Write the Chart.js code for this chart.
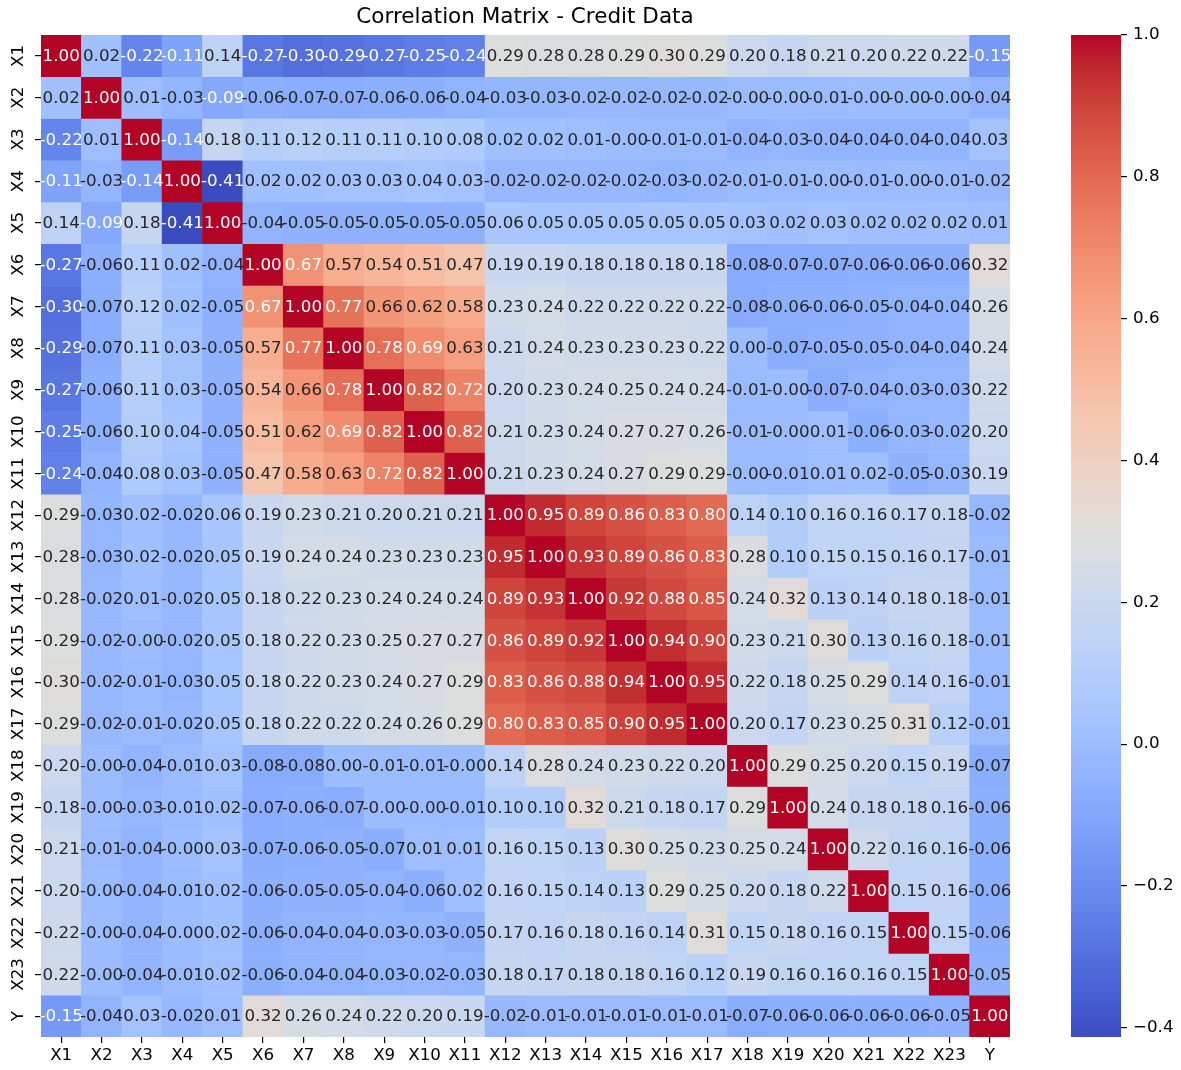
<!DOCTYPE html>
<html>
<head>
<meta charset="utf-8">
<title>Correlation Matrix - Credit Data</title>
<script src="https://cdn.jsdelivr.net/npm/chart.js@4.4.1/dist/chart.umd.min.js"></script>
<style>
  html, body { margin: 0; padding: 0; background: #ffffff; }
  #wrap { position: relative; width: 1181px; height: 1070px; }
  #heat { position: absolute; left: 0; top: 0; }
  #cbar { position: absolute; left: 1050px; top: 0; }
</style>
</head>
<body>
<div id="wrap">
  <canvas id="heat" width="1050" height="1070"></canvas>
  <canvas id="cbar" width="131" height="1070"></canvas>
</div>
<script>
// ---- data -------------------------------------------------------------
const varNames = ['X1','X2','X3','X4','X5','X6','X7','X8','X9','X10','X11','X12',
                  'X13','X14','X15','X16','X17','X18','X19','X20','X21','X22','X23','Y'];

// Pairwise correlations, one row per variable (order as in varNames).
// Small negatives that print as -0.00 are kept as -0.001 so the sign survives formatting.
const rowX1  = [1.00, 0.02,-0.22,-0.11, 0.14,-0.27,-0.30,-0.29,-0.27,-0.25,-0.24, 0.29, 0.28, 0.28, 0.29, 0.30, 0.29, 0.20, 0.18, 0.21, 0.20, 0.22, 0.22,-0.15];
const rowX2  = [0.02, 1.00, 0.01,-0.03,-0.09,-0.06,-0.07,-0.07,-0.06,-0.06,-0.04,-0.03,-0.03,-0.02,-0.02,-0.02,-0.02,-0.001,-0.001,-0.01,-0.001,-0.001,-0.001,-0.04];
const rowX3  = [-0.22, 0.01, 1.00,-0.14, 0.18, 0.11, 0.12, 0.11, 0.11, 0.10, 0.08, 0.02, 0.02, 0.01,-0.001,-0.01,-0.01,-0.04,-0.03,-0.04,-0.04,-0.04,-0.04, 0.03];
const rowX4  = [-0.11,-0.03,-0.14, 1.00,-0.413, 0.02, 0.02, 0.03, 0.03, 0.04, 0.03,-0.02,-0.02,-0.02,-0.02,-0.03,-0.02,-0.01,-0.01,-0.001,-0.01,-0.001,-0.01,-0.02];
const rowX5  = [0.14,-0.09, 0.18,-0.413, 1.00,-0.04,-0.05,-0.05,-0.05,-0.05,-0.05, 0.06, 0.05, 0.05, 0.05, 0.05, 0.05, 0.03, 0.02, 0.03, 0.02, 0.02, 0.02, 0.01];
const rowX6  = [-0.27,-0.06, 0.11, 0.02,-0.04, 1.00, 0.67, 0.57, 0.54, 0.51, 0.47, 0.19, 0.19, 0.18, 0.18, 0.18, 0.18,-0.08,-0.07,-0.07,-0.06,-0.06,-0.06, 0.32];
const rowX7  = [-0.30,-0.07, 0.12, 0.02,-0.05, 0.67, 1.00, 0.77, 0.66, 0.62, 0.58, 0.23, 0.24, 0.22, 0.22, 0.22, 0.22,-0.08,-0.06,-0.06,-0.05,-0.04,-0.04, 0.26];
const rowX8  = [-0.29,-0.07, 0.11, 0.03,-0.05, 0.57, 0.77, 1.00, 0.78, 0.69, 0.63, 0.21, 0.24, 0.23, 0.23, 0.23, 0.22, 0.00,-0.07,-0.05,-0.05,-0.04,-0.04, 0.24];
const rowX9  = [-0.27,-0.06, 0.11, 0.03,-0.05, 0.54, 0.66, 0.78, 1.00, 0.82, 0.72, 0.20, 0.23, 0.24, 0.25, 0.24, 0.24,-0.01,-0.001,-0.07,-0.04,-0.03,-0.03, 0.22];
const rowX10 = [-0.25,-0.06, 0.10, 0.04,-0.05, 0.51, 0.62, 0.69, 0.82, 1.00, 0.82, 0.21, 0.23, 0.24, 0.27, 0.27, 0.26,-0.01,-0.001, 0.01,-0.06,-0.03,-0.02, 0.20];
const rowX11 = [-0.24,-0.04, 0.08, 0.03,-0.05, 0.47, 0.58, 0.63, 0.72, 0.82, 1.00, 0.21, 0.23, 0.24, 0.27, 0.29, 0.29,-0.001,-0.01, 0.01, 0.02,-0.05,-0.03, 0.19];
const rowX12 = [0.29,-0.03, 0.02,-0.02, 0.06, 0.19, 0.23, 0.21, 0.20, 0.21, 0.21, 1.00, 0.95, 0.89, 0.86, 0.83, 0.80, 0.14, 0.10, 0.16, 0.16, 0.17, 0.18,-0.02];
const rowX13 = [0.28,-0.03, 0.02,-0.02, 0.05, 0.19, 0.24, 0.24, 0.23, 0.23, 0.23, 0.95, 1.00, 0.93, 0.89, 0.86, 0.83, 0.28, 0.10, 0.15, 0.15, 0.16, 0.17,-0.01];
const rowX14 = [0.28,-0.02, 0.01,-0.02, 0.05, 0.18, 0.22, 0.23, 0.24, 0.24, 0.24, 0.89, 0.93, 1.00, 0.92, 0.88, 0.85, 0.24, 0.32, 0.13, 0.14, 0.18, 0.18,-0.01];
const rowX15 = [0.29,-0.02,-0.001,-0.02, 0.05, 0.18, 0.22, 0.23, 0.25, 0.27, 0.27, 0.86, 0.89, 0.92, 1.00, 0.94, 0.90, 0.23, 0.21, 0.30, 0.13, 0.16, 0.18,-0.01];
const rowX16 = [0.30,-0.02,-0.01,-0.03, 0.05, 0.18, 0.22, 0.23, 0.24, 0.27, 0.29, 0.83, 0.86, 0.88, 0.94, 1.00, 0.95, 0.22, 0.18, 0.25, 0.29, 0.14, 0.16,-0.01];
const rowX17 = [0.29,-0.02,-0.01,-0.02, 0.05, 0.18, 0.22, 0.22, 0.24, 0.26, 0.29, 0.80, 0.83, 0.85, 0.90, 0.95, 1.00, 0.20, 0.17, 0.23, 0.25, 0.31, 0.12,-0.01];
const rowX18 = [0.20,-0.001,-0.04,-0.01, 0.03,-0.08,-0.08, 0.00,-0.01,-0.01,-0.001, 0.14, 0.28, 0.24, 0.23, 0.22, 0.20, 1.00, 0.29, 0.25, 0.20, 0.15, 0.19,-0.07];
const rowX19 = [0.18,-0.001,-0.03,-0.01, 0.02,-0.07,-0.06,-0.07,-0.001,-0.001,-0.01, 0.10, 0.10, 0.32, 0.21, 0.18, 0.17, 0.29, 1.00, 0.24, 0.18, 0.18, 0.16,-0.06];
const rowX20 = [0.21,-0.01,-0.04,-0.001, 0.03,-0.07,-0.06,-0.05,-0.07, 0.01, 0.01, 0.16, 0.15, 0.13, 0.30, 0.25, 0.23, 0.25, 0.24, 1.00, 0.22, 0.16, 0.16,-0.06];
const rowX21 = [0.20,-0.001,-0.04,-0.01, 0.02,-0.06,-0.05,-0.05,-0.04,-0.06, 0.02, 0.16, 0.15, 0.14, 0.13, 0.29, 0.25, 0.20, 0.18, 0.22, 1.00, 0.15, 0.16,-0.06];
const rowX22 = [0.22,-0.001,-0.04,-0.001, 0.02,-0.06,-0.04,-0.04,-0.03,-0.03,-0.05, 0.17, 0.16, 0.18, 0.16, 0.14, 0.31, 0.15, 0.18, 0.16, 0.15, 1.00, 0.15,-0.06];
const rowX23 = [0.22,-0.001,-0.04,-0.01, 0.02,-0.06,-0.04,-0.04,-0.03,-0.02,-0.03, 0.18, 0.17, 0.18, 0.18, 0.16, 0.12, 0.19, 0.16, 0.16, 0.16, 0.15, 1.00,-0.05];
const rowY   = [-0.15,-0.04, 0.03,-0.02, 0.01, 0.32, 0.26, 0.24, 0.22, 0.20, 0.19,-0.02,-0.01,-0.01,-0.01,-0.01,-0.01,-0.07,-0.06,-0.06,-0.06,-0.06,-0.05, 1.00];

const corrRows = [rowX1, rowX2, rowX3, rowX4, rowX5, rowX6, rowX7, rowX8, rowX9, rowX10,
                  rowX11, rowX12, rowX13, rowX14, rowX15, rowX16, rowX17, rowX18, rowX19,
                  rowX20, rowX21, rowX22, rowX23, rowY];

const colorbarTicks = [-0.4, -0.2, 0.0, 0.2, 0.4, 0.6, 0.8, 1.0];
const chartTitle = 'Correlation Matrix - Credit Data';

// ---- coolwarm colormap (piecewise linear anchors) ---------------------
const cwPos = [0,0.03125,0.0625,0.09375,0.125,0.15625,0.1875,0.21875,0.25,0.28125,0.3125,0.34375,
  0.375,0.40625,0.4375,0.46875,0.5,0.53125,0.5625,0.59375,0.625,0.65625,0.6875,0.71875,0.75,
  0.78125,0.8125,0.84375,0.875,0.90625,0.9375,0.96875,1.0];
const cwR = [0.2298057,0.26623388,0.30386891,0.342804478,0.38301334,0.424369608,0.46666708,
  0.509635204,0.552953156,0.596262162,0.639176211,0.681291281,0.722193294,0.761464949,
  0.798691636,0.833466556,0.865395197,0.897787179,0.924127593,0.944468518,0.958852946,
  0.96732803,0.969954137,0.966811177,0.958003065,0.943660866,0.923944917,0.89904617,
  0.869186849,0.834620542,0.795631745,0.752534934,0.705673158];
const cwG = [0.298717966,0.353094838,0.406535296,0.458757618,0.50941904,0.558148092,0.604562568,
  0.648280772,0.688929332,0.726149107,0.759599947,0.788964712,0.813952739,0.834302879,
  0.849786142,0.860207984,0.86541021,0.848937047,0.827384882,0.800927443,0.769767752,
  0.734132809,0.694266682,0.650421156,0.602842431,0.551750968,0.49730856,0.439559467,
  0.378313092,0.312874446,0.24128379,0.157246067,0.01555616];
const cwB = [0.753683153,0.801466763,0.84495867,0.883725899,0.917387822,0.945619588,0.968154911,
  0.98478814,0.995375608,0.999836203,0.998151185,0.990363227,0.976574709,0.956945269,
  0.931688648,0.901068838,0.865395561,0.820880546,0.774508472,0.726736146,0.678007945,
  0.628751763,0.579375448,0.530263762,0.481775914,0.434243684,0.387970225,0.343229596,
  0.300267182,0.259301199,0.220525627,0.184115123,0.150232812];

function coolwarm(x) {
  x = Math.max(0, Math.min(1, x));
  let k = 0;
  while (k < cwPos.length - 2 && x > cwPos[k + 1]) k++;
  const f = (x - cwPos[k]) / (cwPos[k + 1] - cwPos[k]);
  return [cwR[k] + f * (cwR[k + 1] - cwR[k]),
          cwG[k] + f * (cwG[k + 1] - cwG[k]),
          cwB[k] + f * (cwB[k + 1] - cwB[k])];
}

// 256-entry lookup table
const LUT = [];
for (let i = 0; i < 256; i++) LUT.push(coolwarm(i / 255));

const allValues = corrRows.flat();
const vmin = Math.min(...allValues);
const vmax = Math.max(...allValues);

function lutIndex(v) {
  const t = (v - vmin) / (vmax - vmin);
  return Math.max(0, Math.min(255, Math.floor(t * 256)));
}
function rgbCss(c) {
  return 'rgb(' + Math.round(c[0] * 255) + ',' + Math.round(c[1] * 255) + ',' + Math.round(c[2] * 255) + ')';
}
function cellColor(v) { return rgbCss(LUT[lutIndex(v)]); }
function textColor(v) {
  const c = LUT[lutIndex(v)].map(ch => ch <= 0.03928 ? ch / 12.92 : Math.pow((ch + 0.055) / 1.055, 2.4));
  const lum = 0.2126 * c[0] + 0.7152 * c[1] + 0.0722 * c[2];
  return lum > 0.408 ? '#262626' : '#ffffff';
}

const FONT = 'DejaVu Sans';
Chart.defaults.font.family = FONT;
Chart.defaults.color = '#000000';

// ---- cell annotations ---------------------------------------------------
const cellText = {
  id: 'cellText',
  afterDatasetsDraw(chart) {
    const ctx = chart.ctx;
    ctx.save();
    ctx.font = '16.7px "' + FONT + '"';
    ctx.textAlign = 'center';
    ctx.textBaseline = 'middle';
    chart.data.datasets.forEach((ds, r) => {
      const meta = chart.getDatasetMeta(r);
      meta.data.forEach((bar, c) => {
        const v = ds.values[c];
        const p = bar.getProps(['x', 'y', 'base'], true);
        ctx.fillStyle = textColor(v);
        ctx.fillText(v.toFixed(2), p.x, (p.y + p.base) / 2 + 1);
      });
    });
    ctx.restore();
  }
};

// ---- heatmap ------------------------------------------------------------
const heatDatasets = corrRows.map((row, r) => ({
  label: varNames[r],
  values: row,
  data: row.map(() => [r, r + 1]),
  backgroundColor: row.map(cellColor),
  borderWidth: 0,
  barPercentage: 1,
  categoryPercentage: 1,
  grouped: false
}));

new Chart(document.getElementById('heat'), {
  type: 'bar',
  data: { labels: varNames, datasets: heatDatasets },
  options: {
    responsive: false,
    animation: false,
    events: [],
    layout: { padding: 0 },
    plugins: {
      legend: { display: false },
      tooltip: { enabled: false },
      title: {
        display: true,
        text: chartTitle,
        color: '#000000',
        font: { size: 21.5, family: FONT, weight: 'normal', lineHeight: 1.2 },
        padding: { top: 5, bottom: 4.2 }
      }
    },
    scales: {
      x: {
        type: 'category',
        offset: true,
        border: { display: false },
        grid: { display: true, drawOnChartArea: false, drawTicks: true, offset: false,
                tickLength: 6, color: '#000000', lineWidth: 1.2 },
        ticks: { autoSkip: false, maxRotation: 0, minRotation: 0, padding: 3,
                 color: '#000000', font: { size: 16.7, family: FONT } },
        afterFit(s) { s.height = 33; }
      },
      y: {
        type: 'linear',
        min: 0,
        max: varNames.length,
        reverse: true,
        border: { display: false },
        grid: { display: true, drawOnChartArea: false, drawTicks: true,
                tickLength: 6, color: '#000000', lineWidth: 1.2 },
        afterBuildTicks(s) { s.ticks = varNames.map((_, i) => ({ value: i + 0.5 })); },
        ticks: {
          autoSkip: false, minRotation: 90, maxRotation: 90, crossAlign: 'center', padding: 0,
          color: '#000000', font: { size: 16.7, family: FONT },
          callback: (value, index) => varNames[index]
        },
        afterFit(s) { s.width = 41; }
      },
      // empty right-hand spacer so the plot and title share the same centre line
      spacer: {
        type: 'linear',
        position: 'right',
        display: true,
        border: { display: false },
        grid: { display: false },
        ticks: { display: false },
        afterFit(s) { s.width = 40; }
      }
    }
  },
  plugins: [cellText]
});

// ---- colorbar -----------------------------------------------------------
function barGradient(context) {
  const chart = context.chart;
  const area = chart.chartArea;
  const ys = chart.scales.y;
  if (!area || !ys) return 'rgb(221,221,221)';
  const y0 = ys.getPixelForValue(vmin);
  const y1 = ys.getPixelForValue(vmax);
  const g = chart.ctx.createLinearGradient(0, y0, 0, y1);
  for (let i = 0; i < 256; i++) g.addColorStop(i / 255, rgbCss(LUT[i]));
  return g;
}

new Chart(document.getElementById('cbar'), {
  type: 'bar',
  data: {
    labels: ['scale'],
    datasets: [{
      data: [[vmin, vmax]],
      backgroundColor: barGradient,
      borderWidth: 0,
      barPercentage: 1,
      categoryPercentage: 1
    }]
  },
  options: {
    responsive: false,
    animation: false,
    events: [],
    layout: { padding: { left: 21, right: 0, top: 35, bottom: 33 } },
    plugins: { legend: { display: false }, tooltip: { enabled: false } },
    scales: {
      x: { display: false, offset: true },
      y: {
        type: 'linear',
        position: 'right',
        min: vmin,
        max: vmax,
        border: { display: false },
        grid: { display: true, drawOnChartArea: false, drawTicks: true,
                tickLength: 6, color: '#000000', lineWidth: 1.2 },
        afterBuildTicks(s) { s.ticks = colorbarTicks.map(v => ({ value: v })); },
        ticks: {
          padding: 6, color: '#000000', font: { size: 16.7, family: FONT },
          callback: (v) => (v < -1e-9 ? '\u2212' : '') + Math.abs(v).toFixed(1)
        },
        afterFit(s) { s.width = 60; }
      }
    }
  }
});
</script>
</body>
</html>
